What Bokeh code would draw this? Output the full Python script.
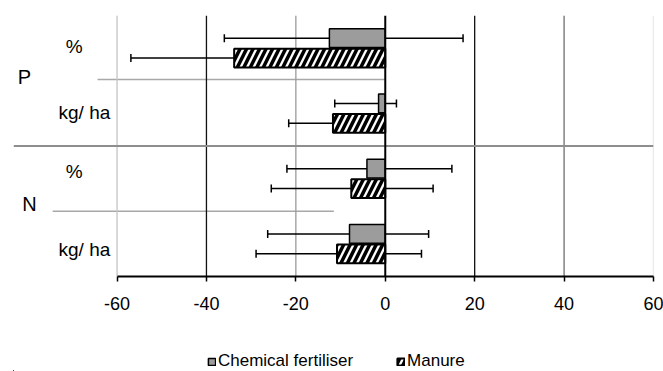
from bokeh.plotting import figure
from bokeh.layouts import column
from bokeh.models import (ColumnDataSource, Range1d, FixedTicker, Span, Whisker,
                          TeeHead, Legend, LegendItem)
from bokeh.core.properties import value
from bokeh.embed import file_html
from bokeh.resources import INLINE

# ---- data (top to bottom) ----
groups = ["P", "N"]
units = ["%", "kg/ ha", "%", "kg/ ha"]
chem = [-12.5, -1.5, -4.1, -8.0]
chem_lo = [-36.0, -11.3, -22.0, -26.3]
chem_hi = [17.4, 2.5, 14.9, 9.7]
manure = [-33.8, -11.7, -7.6, -10.8]
manure_lo = [-56.9, -21.6, -25.5, -28.9]
manure_hi = [-10.7, -1.8, 10.7, 8.1]
x_ticks = [-60, -40, -20, 0, 20, 40, 60]
tick_labels = ["-60", "-40", "-20", "0", "20", "40", "60"]
series_names = ["Chemical fertiliser", "Manure"]

FONT = "Liberation Sans"
CHEM_STYLE = dict(fill_color="#9c9c9c", line_color="black", line_width=1.5)
MAN_STYLE = dict(fill_color="white", line_color="black", line_width=2,
                 hatch_pattern="/", hatch_color="black", hatch_weight=3.5, hatch_scale=13)

n = len(units)
ypos = [n - 1 - i for i in range(n)]          # 3,2,1,0 (top to bottom)
off = 0.153
bar_h = 0.287

src_c = ColumnDataSource(dict(y=[v + off for v in ypos], x=chem, lo=chem_lo, hi=chem_hi))
src_m = ColumnDataSource(dict(y=[v - off for v in ypos], x=manure, lo=manure_lo, hi=manure_hi))

p = figure(width=663, height=320, output_backend="svg", toolbar_location=None,
           x_range=Range1d(-83.16, 60), y_range=Range1d(-0.5, n - 0.5),
           min_border_left=13, min_border_right=10, min_border_top=15, min_border_bottom=44)
p.outline_line_color = None
p.background_fill_color = "white"
p.border_fill_color = "white"
p.yaxis.visible = False
p.ygrid.visible = False
p.xgrid.visible = False

# vertical gridlines
grid_colors = {-60: "#c4c4c4", -40: "#111111", -20: "#9a9a9a", 20: "#111111", 40: "#6e6e6e", 60: "#d6d6d6"}
for t in x_ticks:
    if t == 0:
        continue
    p.add_layout(Span(location=t, dimension="height", line_color=grid_colors[t],
                      line_width=1.3, level="underlay"))

# category separator lines (Excel multi-level axis)
p.add_layout(Span(location=1.5, dimension="width", line_color="#8e8e8e", line_width=2, level="underlay"))
p.segment(x0=[-64.36, -74.4], x1=[0, -11.5], y0=[2.52, 0.5], y1=[2.52, 0.5],
          line_color="#a8a8a8", line_width=1.5, level="underlay")

# error bars (behind bars)
for src in (src_c, src_m):
    p.add_layout(Whisker(source=src, base="y", lower="lo", upper="hi", dimension="width",
                         line_color="black", line_width=1.5, level="underlay",
                         lower_head=TeeHead(size=8, line_color="black", line_width=1.5),
                         upper_head=TeeHead(size=8, line_color="black", line_width=1.5)))

p.hbar(y="y", right="x", left=0, height=bar_h, source=src_c, **CHEM_STYLE)
p.hbar(y="y", right="x", left=0, height=bar_h, source=src_m, **MAN_STYLE)

# zero axis line
p.add_layout(Span(location=0, dimension="height", line_color="black", line_width=2))

# category labels
lab_src = ColumnDataSource(dict(x=[-69.6, -67.3, -69.6, -67.3], y=ypos, text=units, dy=[-2, -1, -7, 6]))
p.text(x="x", y="y", text="text", source=lab_src, text_font=value(FONT),
       text_font_size="19px", text_align="center", text_baseline="middle",
       text_color="black", y_offset="dy")
grp_src = ColumnDataSource(dict(x=[-80.7, -79.6], y=[2.5, 0.5], text=groups, dy=[-4, -7]))
p.text(x="x", y="y", text="text", source=grp_src, text_font=value(FONT),
       text_font_size="20px", text_align="center", text_baseline="middle",
       text_color="black", y_offset="dy")

# x axis
ax = p.xaxis[0]
ax.ticker = FixedTicker(ticks=x_ticks)
ax.major_label_overrides = {t: s for t, s in zip(x_ticks, tick_labels)}
ax.bounds = (-60, 60)
ax.axis_line_color = "black"
ax.axis_line_width = 2
ax.major_tick_line_color = "black"
ax.major_tick_line_width = 1.5
ax.major_tick_out = 5
ax.major_tick_in = 0
ax.minor_tick_line_color = None
ax.major_label_text_font = FONT
ax.major_label_text_font_size = "18px"
ax.major_label_text_color = "black"
ax.major_label_standoff = 15

# legend strip (series drawn from the same sources, outside this strip's ranges)
lg = figure(width=663, height=51, output_backend="svg", toolbar_location=None,
            x_range=Range1d(100, 101), y_range=Range1d(100, 101),
            min_border=0, x_axis_type=None, y_axis_type=None)
lg.outline_line_color = None
lg.xgrid.visible = False
lg.ygrid.visible = False
rc = lg.hbar(y="y", right="x", left=0, height=bar_h, source=src_c, **CHEM_STYLE)
rm = lg.hbar(y="y", right="x", left=0, height=bar_h, source=src_m, **MAN_STYLE)
legend = Legend(items=[LegendItem(label=series_names[0], renderers=[rc]),
                       LegendItem(label=series_names[1], renderers=[rm])],
                orientation="horizontal", location=(194, 0),
                label_text_font=FONT, label_text_font_size="17px", label_text_color="black",
                glyph_width=9, glyph_height=9, label_standoff=2, spacing=43,
                border_line_color=None, background_fill_alpha=0,
                padding=0, margin=0)
lg.add_layout(legend, "center")

open("out.html", "w").write(file_html(column(p, lg, spacing=0), INLINE))
